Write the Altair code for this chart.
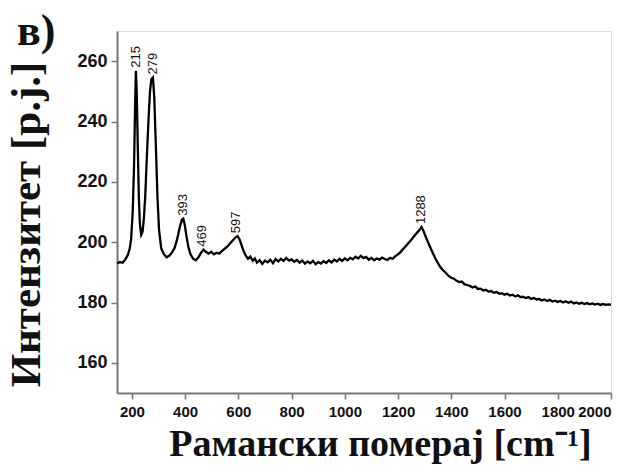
import altair as alt
import pandas as pd

# Raman spectrum
shift = [145, 155, 165, 175, 185, 192, 197, 203, 208, 212, 215, 218, 222, 226, 230, 235, 240, 245, 250, 256,
         262, 268, 273, 279, 284, 290, 296, 302, 310, 320, 330, 340, 350, 360, 370, 380, 388, 393, 398, 405,
         412, 420, 430, 440, 450, 460, 469, 478, 488, 498, 508, 518, 528, 538, 548, 558, 568, 578, 588, 597,
         605, 612, 620, 628, 636, 645, 654, 662, 670, 680, 690, 700, 710, 720, 730, 740, 750, 760, 770, 780,
         790, 800, 810, 820, 830, 840, 850, 860, 870, 880, 890, 900, 910, 920, 930, 940, 950, 960, 970, 980,
         990, 1000, 1010, 1020, 1030, 1040, 1050, 1060, 1070, 1080, 1090, 1100, 1110, 1120, 1130, 1140, 1150,
         1160, 1170, 1180, 1190, 1200, 1210, 1220, 1230, 1240, 1250, 1260, 1270, 1280, 1288, 1295, 1302, 1310,
         1320, 1330, 1340, 1350, 1360, 1370, 1380, 1390, 1400, 1410, 1420, 1430, 1440, 1450, 1460, 1470, 1480,
         1490, 1500, 1510, 1520, 1530, 1540, 1550, 1560, 1570, 1580, 1590, 1600, 1610, 1620, 1630, 1640, 1650,
         1660, 1670, 1680, 1690, 1700, 1710, 1720, 1730, 1740, 1750, 1760, 1770, 1780, 1790, 1800, 1810, 1820,
         1830, 1840, 1850, 1860, 1870, 1880, 1890, 1900, 1910, 1920, 1930, 1940, 1950, 1960, 1970, 1980, 1990, 2000]
intensity = [193.0, 193.4, 193.2, 194.2, 195.8, 198.0, 201.0, 210.0, 225.0, 245.0, 256.8, 250.0, 232.0, 215.0, 206.0, 202.5, 203.5, 208.0, 215.0, 228.0,
             240.0, 250.0, 254.0, 254.6, 248.0, 232.0, 215.0, 204.0, 198.0, 196.0, 195.0, 195.5, 196.5, 198.0, 201.0, 205.0, 207.5, 207.8, 206.0, 202.0,
             198.5, 196.0, 194.5, 194.0, 195.0, 196.5, 197.5, 196.8, 196.2, 196.8, 196.0, 196.5, 196.2, 197.0, 197.8, 198.5, 199.5, 200.5, 201.5, 202.0,
             200.8, 199.0, 197.0, 195.5, 194.5, 195.2, 193.8, 194.6, 193.2, 194.0, 192.8, 193.9, 193.3, 194.2, 193.0, 194.4, 193.6, 194.5, 193.8, 194.8,
             193.9, 194.3, 193.5, 194.1, 193.2, 193.9, 192.9, 193.6, 193.0, 193.8, 192.7, 193.4, 192.9, 193.7, 193.1, 194.0, 193.3, 194.2, 193.6, 194.5,
             193.8, 194.6, 194.0, 194.8, 194.3, 195.2, 194.6, 195.5, 194.7, 195.1, 194.2, 194.8, 194.0, 194.6, 194.2, 194.9, 194.4,
             194.1, 194.8, 194.5, 195.4, 196.0, 196.8, 197.8, 198.8, 199.8, 200.8, 202.0, 203.0, 204.0, 205.0, 203.8, 202.2, 200.5,
             198.5, 196.5, 194.6, 193.0, 191.6, 190.6, 189.8, 188.8, 188.2, 187.9, 187.2, 186.8, 186.9, 186.0, 185.8, 185.5, 185.0,
             185.3, 184.5, 184.6, 184.0, 184.2, 183.6, 183.8, 183.2, 183.5, 182.9, 183.1, 182.6, 182.9, 182.3, 182.6, 182.0, 182.4,
             181.8, 181.9, 181.5, 181.8, 181.2, 181.5, 181.0, 181.2, 180.7, 181.0, 180.5, 180.9, 180.3, 180.6, 180.2, 180.5, 180.0,
             180.4, 179.9, 180.3, 179.7, 180.0, 179.6, 179.9, 179.5, 179.8, 179.4, 179.7, 179.3, 179.6, 179.2, 179.5, 179.2, 179.4, 179.3]

peak_label_x = [215, 279, 393, 462, 590, 1288]
peak_label_y = [256.8, 254.6, 207.8, 197.5, 202.0, 205.0]
peak_text = ["215", "279", "393", "469", "597", "1288"]

x_ticks = list(range(200, 2001, 100))
y_ticks = list(range(160, 261, 10))

spec = pd.DataFrame({"x": shift, "y": intensity})
peaks = pd.DataFrame({"x": peak_label_x, "y": peak_label_y, "t": peak_text})

xscale = alt.Scale(domain=[144, 2000], nice=False, zero=False)
yscale = alt.Scale(domain=[150, 270], nice=False, zero=False)

x_axis = alt.Axis(
    values=x_ticks, format="d",
    labelExpr="datum.value % 200 == 0 ? datum.label : ''",
    tickSize=alt.condition("datum.value % 200 == 0", alt.value(6), alt.value(4)),
    labelPadding=5, labelFontSize=15, labelFont="Liberation Sans",
    labelFontWeight="bold", labelColor="#111",
    title="Рамански померај [cm⁻¹]", titleFont="Liberation Serif", titleFontSize=38,
    titleFontWeight="bold", titleColor="#111", titleX=263, titleY=62,
    titleAlign="center", titleBaseline="alphabetic",
    grid=False, domainColor="#777", domainWidth=2, tickColor="#777", tickWidth=1.5,
)
y_axis = alt.Axis(
    values=y_ticks, format="d",
    labelExpr="datum.value % 20 == 0 ? datum.label : ''",
    tickSize=6,
    labelPadding=4, labelFontSize=18, labelFont="Liberation Sans",
    labelFontWeight="bold", labelColor="#111",
    title="Интензитет [p.j.]", titleFont="Liberation Serif", titleFontSize=43,
    titleFontWeight="bold", titleColor="#111", titleAngle=270, titleX=-78, titleY=193,
    titleAlign="center", titleBaseline="alphabetic",
    grid=False, domainColor="#777", domainWidth=2, tickColor="#777", tickWidth=1.5,
)

line = alt.Chart(spec).mark_line(color="black", strokeWidth=2.3).encode(
    x=alt.X("x:Q", scale=xscale, axis=x_axis),
    y=alt.Y("y:Q", scale=yscale, axis=y_axis),
)

labels = alt.Chart(peaks).mark_text(
    angle=270, align="left", baseline="middle", dx=3,
    font="Liberation Sans", fontSize=13, color="#111",
).encode(x="x:Q", y="y:Q", text="t:N")

panel = alt.Chart(pd.DataFrame({"t": ["в)"]})).mark_text(
    align="left", baseline="alphabetic", font="Liberation Serif", fontSize=44,
    fontWeight="bold", color="#111",
).encode(x=alt.value(-100), y=alt.value(14), text="t:N")

chart = alt.layer(line, labels, panel).properties(
    width=494, height=362,
    autosize=alt.AutoSizeParams(type="none"),
    padding={"left": 117, "top": 31, "right": 26, "bottom": 79},
).configure_view(stroke="#777", strokeWidth=2).configure(background="white")

chart.save("out.html", embed_options={"renderer": "svg", "actions": False})
